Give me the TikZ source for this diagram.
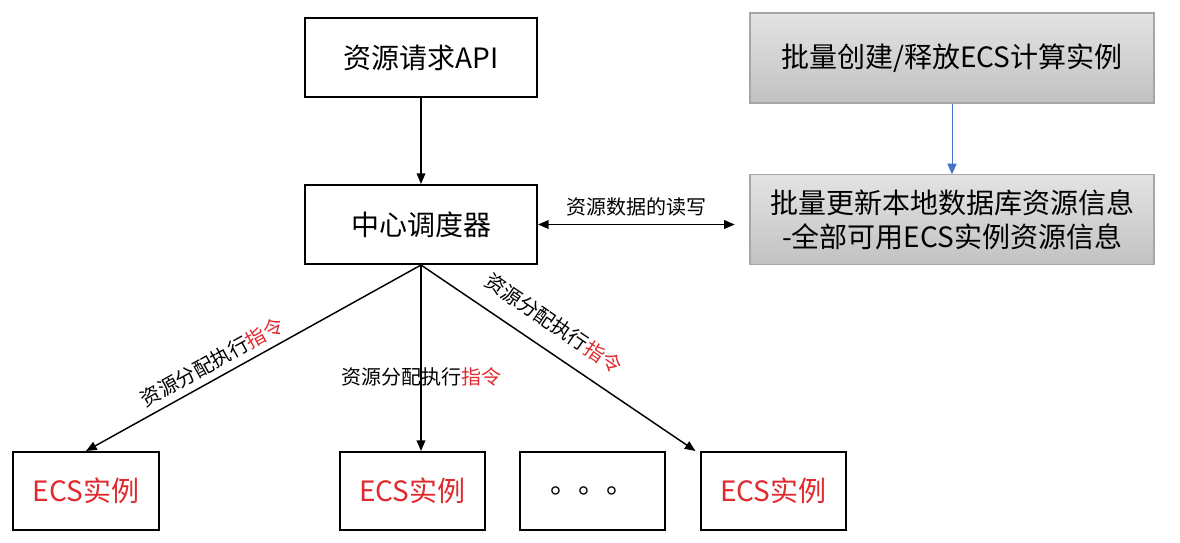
\documentclass[tikz,border=0pt]{standalone}
\usepackage{fontspec}
\setmainfont{Noto Sans CJK SC}
\usepackage{xcolor}
\usepackage{tikz}
\usetikzlibrary{arrows.meta,positioning}

\definecolor{ecsred}{HTML}{E02A2E}
\definecolor{linkblue}{HTML}{4472C4}

\begin{document}
\begin{tikzpicture}[
    x=0.75pt, y=-0.75pt,
    node distance=25pt,
    box/.style={rectangle, draw=black, line width=1.5pt, fill=white, text centered, minimum height=59.25pt, minimum width=174pt, font=\fontsize{21}{25.5}\selectfont},
    graybox/.style={rectangle, draw=black!35, line width=0.9pt, top color=black!11, bottom color=black!24, text centered, align=center, minimum height=67.5pt, minimum width=303pt, font=\fontsize{21}{25.5}\selectfont},
    ecsbox/.style={box, minimum height=58.5pt, minimum width=109pt, text=ecsred},
    link/.style={line width=1.1pt, -{Triangle[length=8pt,width=6.5pt]}},
    lbl/.style={font=\fontsize{15}{18}\selectfont, inner sep=2pt}
]
\useasboundingbox (0,0) rectangle (1180,542);

\node (api) [box] at (421,57.5) {资源请求API};
\node (sched) [box] at (421,224.5) {中心调度器};
\node (create) [graybox] at (952,58) {批量创建/释放ECS计算实例};
\node (update) [graybox, below=53pt of create] {批量更新本地数据库资源信息\\-全部可用ECS实例资源信息};

\node (ecs1) [ecsbox] at (86,491) {ECS实例};
\node (ecs2) [ecsbox] at (412.5,491) {ECS实例};
\node (dots) [box, minimum height=58.5pt, minimum width=109pt, right=24.5pt of ecs2] {。。。};
\node (ecs4) [ecsbox, right=of dots] {ECS实例};

\draw[link] (api) -- (sched);
\draw[linkblue, line width=0.6pt, -{Triangle[length=8pt,width=7pt]}] (create) -- (update);
\draw[line width=1.1pt, {Triangle[length=8pt,width=6.5pt]}-{Triangle[length=8pt,width=6.5pt]}] (sched.east) -- ([xshift=-11pt]sched.east -| update.west) node[lbl, midway, above=4pt] {资源数据的读写};

\draw[link] (sched.south) -- (ecs1.north) node[lbl, pos=0.6, sloped, above=3pt] {资源分配执行\textcolor{ecsred}{指令}};
\draw[link] (sched.south) -- (sched.south |- ecs2.north) node[lbl, pos=0.6] {资源分配执行\textcolor{ecsred}{指令}};
\draw[link] (sched.south) -- ([xshift=-3pt]ecs4.north west) node[lbl, pos=0.43, sloped, above=10pt] {资源分配执行\textcolor{ecsred}{指令}};
\end{tikzpicture}
\end{document}
